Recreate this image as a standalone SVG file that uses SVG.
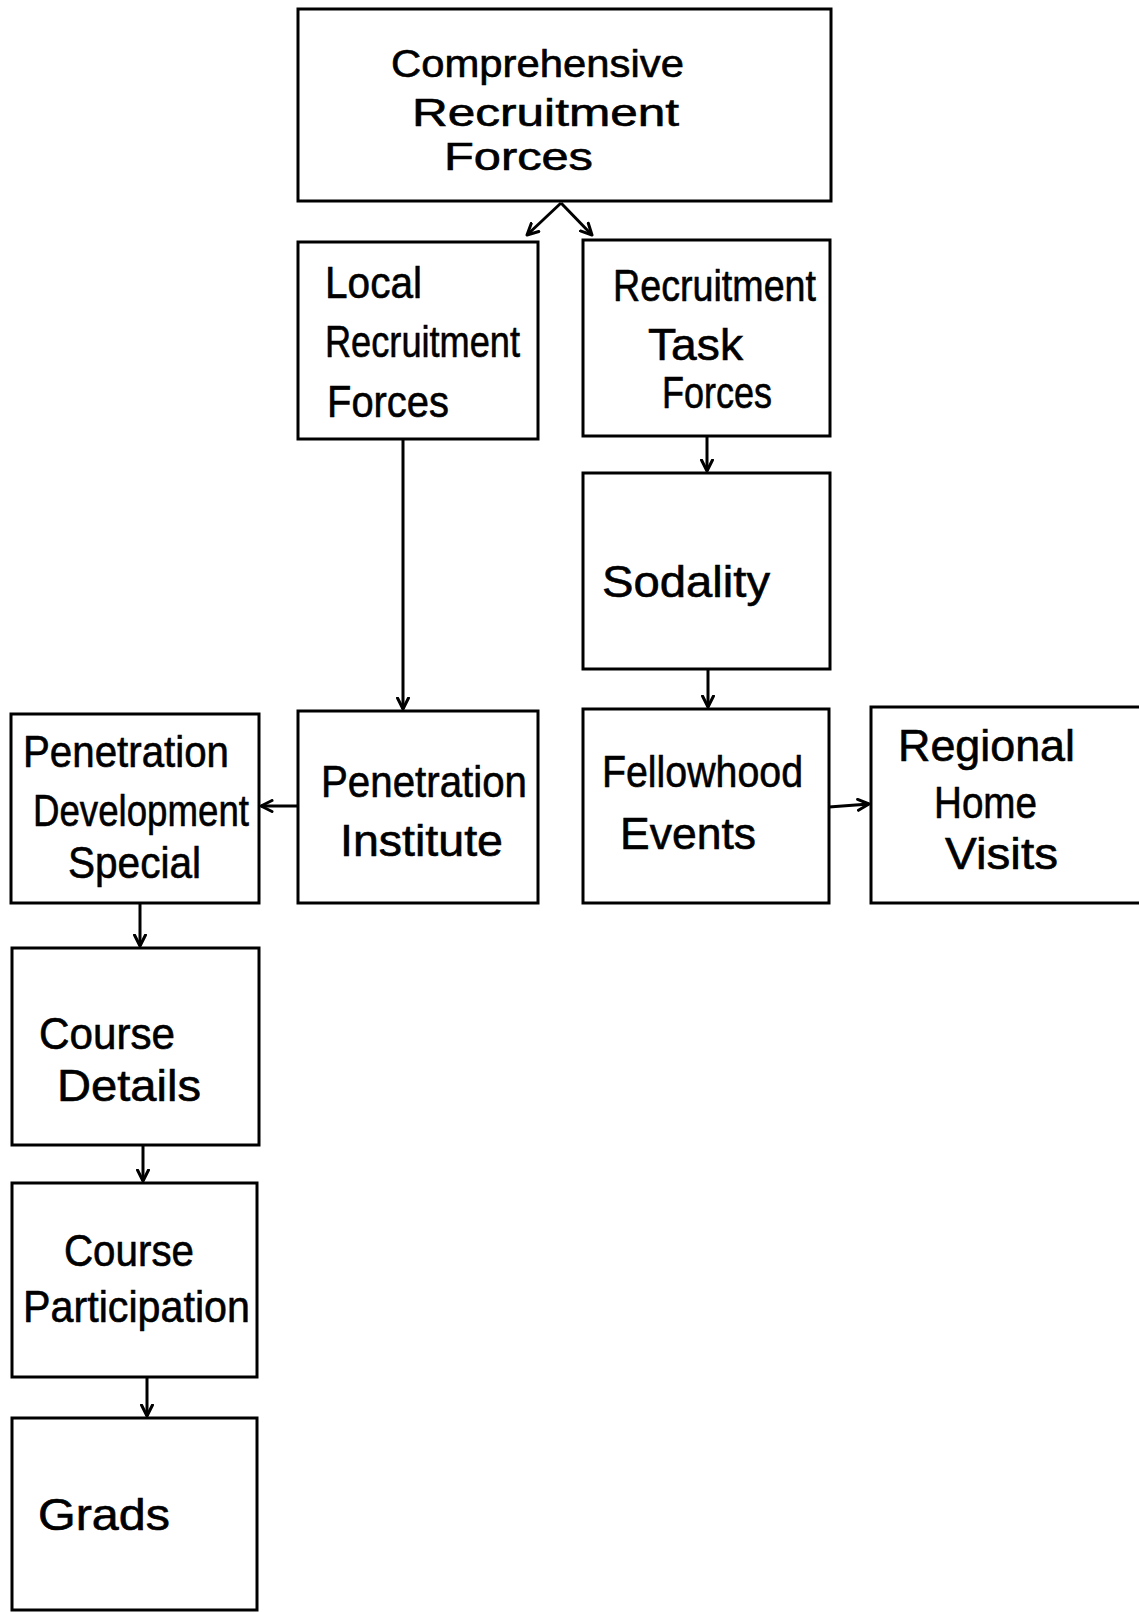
<svg xmlns="http://www.w3.org/2000/svg" width="1139" height="1613" viewBox="0 0 1139 1613">
  <style>
    .box { fill: #ffffff; stroke: #000000; stroke-width: 3; }
    .lbl { font-family: "Liberation Sans", Arial, sans-serif; font-size: 44px; fill: #000000; stroke: #000000; stroke-width: 0.6; }
    .top { font-size: 38px; }
    .edge { fill: none; stroke: #000000; stroke-width: 3; marker-end: url(#arrow); }
  </style>
  <defs>
    <marker id="arrow" viewBox="0 0 14 14" refX="12.5" refY="7" markerWidth="14" markerHeight="14" markerUnits="userSpaceOnUse" orient="auto">
      <path d="M1.5,1.5 L12.5,7 L1.5,12.5" fill="none" stroke="#000000" stroke-width="3" stroke-linecap="round" stroke-linejoin="round"/>
    </marker>
  </defs>
  <rect width="1139" height="1613" fill="#ffffff"/>

  <g id="connectors">
    <path class="edge" d="M561,203 L527,235"/>
    <path class="edge" d="M561,203 L592,235"/>
    <path class="edge" d="M403,439 L403,709"/>
    <path class="edge" d="M707,436 L707,471"/>
    <path class="edge" d="M708,669 L708,707"/>
    <path class="edge" d="M298,806 L261,806"/>
    <path class="edge" d="M829,807 L869,804"/>
    <path class="edge" d="M140,903 L140,946"/>
    <path class="edge" d="M143,1145 L143,1181"/>
    <path class="edge" d="M147,1377 L147,1416"/>
  </g>

  <g id="comprehensive-recruitment-forces">
    <rect class="box" x="298" y="9" width="533" height="192"/>
    <text class="lbl top" x="391" y="77" textLength="293" lengthAdjust="spacingAndGlyphs">Comprehensive</text>
    <text class="lbl top" x="412" y="126" textLength="267" lengthAdjust="spacingAndGlyphs">Recruitment</text>
    <text class="lbl top" x="444" y="170" textLength="149" lengthAdjust="spacingAndGlyphs">Forces</text>
  </g>

  <g id="local-recruitment-forces">
    <rect class="box" x="298" y="242" width="240" height="197"/>
    <text class="lbl" x="325" y="298" textLength="97" lengthAdjust="spacingAndGlyphs">Local</text>
    <text class="lbl" x="325" y="357" textLength="195" lengthAdjust="spacingAndGlyphs">Recruitment</text>
    <text class="lbl" x="327" y="417" textLength="122" lengthAdjust="spacingAndGlyphs">Forces</text>
  </g>

  <g id="recruitment-task-forces">
    <rect class="box" x="583" y="240" width="247" height="196"/>
    <text class="lbl" x="613" y="301" textLength="203" lengthAdjust="spacingAndGlyphs">Recruitment</text>
    <text class="lbl" x="648" y="360" textLength="95" lengthAdjust="spacingAndGlyphs">Task</text>
    <text class="lbl" x="662" y="408" textLength="110" lengthAdjust="spacingAndGlyphs">Forces</text>
  </g>

  <g id="sodality">
    <rect class="box" x="583" y="473" width="247" height="196"/>
    <text class="lbl" x="602" y="597" textLength="168" lengthAdjust="spacingAndGlyphs">Sodality</text>
  </g>

  <g id="penetration-development-special">
    <rect class="box" x="11" y="714" width="248" height="189"/>
    <text class="lbl" x="23" y="767" textLength="206" lengthAdjust="spacingAndGlyphs">Penetration</text>
    <text class="lbl" x="33" y="826" textLength="216" lengthAdjust="spacingAndGlyphs">Development</text>
    <text class="lbl" x="68" y="878" textLength="133" lengthAdjust="spacingAndGlyphs">Special</text>
  </g>

  <g id="penetration-institute">
    <rect class="box" x="298" y="711" width="240" height="192"/>
    <text class="lbl" x="321" y="797" textLength="206" lengthAdjust="spacingAndGlyphs">Penetration</text>
    <text class="lbl" x="340" y="856" textLength="163" lengthAdjust="spacingAndGlyphs">Institute</text>
  </g>

  <g id="fellowhood-events">
    <rect class="box" x="583" y="709" width="246" height="194"/>
    <text class="lbl" x="602" y="787" textLength="201" lengthAdjust="spacingAndGlyphs">Fellowhood</text>
    <text class="lbl" x="620" y="849" textLength="136" lengthAdjust="spacingAndGlyphs">Events</text>
  </g>

  <g id="regional-home-visits">
    <rect class="box" x="871" y="707" width="280" height="196"/>
    <text class="lbl" x="898" y="761" textLength="177" lengthAdjust="spacingAndGlyphs">Regional</text>
    <text class="lbl" x="934" y="818" textLength="103" lengthAdjust="spacingAndGlyphs">Home</text>
    <text class="lbl" x="945" y="869" textLength="113" lengthAdjust="spacingAndGlyphs">Visits</text>
  </g>

  <g id="course-details">
    <rect class="box" x="12" y="948" width="247" height="197"/>
    <text class="lbl" x="39" y="1049" textLength="136" lengthAdjust="spacingAndGlyphs">Course</text>
    <text class="lbl" x="57" y="1101" textLength="144" lengthAdjust="spacingAndGlyphs">Details</text>
  </g>

  <g id="course-participation">
    <rect class="box" x="12" y="1183" width="245" height="194"/>
    <text class="lbl" x="64" y="1266" textLength="130" lengthAdjust="spacingAndGlyphs">Course</text>
    <text class="lbl" x="23" y="1322" textLength="227" lengthAdjust="spacingAndGlyphs">Participation</text>
  </g>

  <g id="grads">
    <rect class="box" x="12" y="1418" width="245" height="192"/>
    <text class="lbl" x="38" y="1530" textLength="132" lengthAdjust="spacingAndGlyphs">Grads</text>
  </g>
</svg>
